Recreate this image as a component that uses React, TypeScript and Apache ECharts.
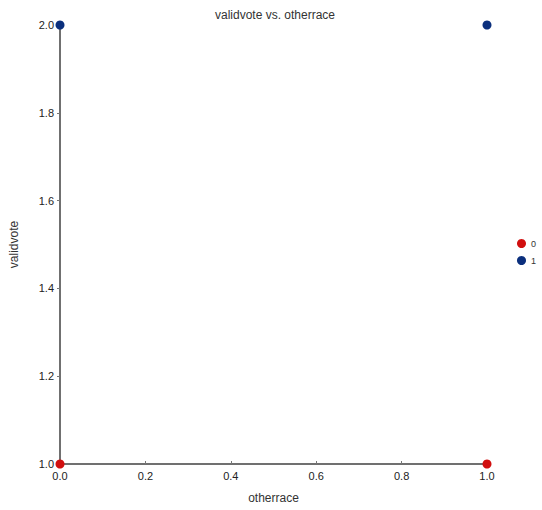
import React, { useEffect, useRef } from "react";
import * as echarts from "echarts";

const seriesNames = ["0", "1"];
const seriesColors = ["#d10f0f", "#0b2f7d"];
const otherrace0 = [0, 1];
const validvote0 = [1, 1];
const otherrace1 = [0, 1];
const validvote1 = [2, 2];

export default function App() {
  const ref = useRef<HTMLDivElement>(null);
  useEffect(() => {
    document.body.style.margin = "0";
    const chart = echarts.init(ref.current!, null, { renderer: "svg" });
    const mk = (xs: number[], ys: number[]) => xs.map((x, i) => [x, ys[i]]);
    chart.setOption({
      animation: false,
      backgroundColor: "#ffffff",
      title: {
        text: "validvote vs. otherrace",
        left: 270,
        textAlign: "center",
        top: 4,
        textStyle: { fontSize: 12, fontWeight: "normal", color: "#333", fontFamily: "Arial, Liberation Sans" },
      },
      legend: {
        orient: "vertical",
        left: 512,
        top: 234,
        itemWidth: 9,
        itemHeight: 9,
        itemGap: 8,
        icon: "circle",
        data: seriesNames,
        textStyle: { fontSize: 9, color: "#333", fontFamily: "Arial, Liberation Sans" },
      },
      grid: { left: 58, right: 55, top: 25, bottom: 46 },
      xAxis: {
        type: "value",
        min: 0,
        max: 1,
        interval: 0.2,
        name: "otherrace",
        nameLocation: "middle",
        nameGap: 28,
        nameTextStyle: { fontSize: 12, color: "#333", fontFamily: "Arial, Liberation Sans" },
        axisLine: { show: true, lineStyle: { color: "#707070", width: 2 } },
        axisTick: { show: true, inside: true, length: 3, lineStyle: { color: "#777" } },
        axisLabel: { fontSize: 11, color: "#222", margin: 6, formatter: (v: number) => v.toFixed(1), fontFamily: "Arial, Liberation Sans" },
        splitLine: { show: false },
      },
      yAxis: {
        type: "value",
        min: 1,
        max: 2,
        interval: 0.2,
        name: "validvote",
        nameLocation: "middle",
        nameGap: 40,
        nameTextStyle: { fontSize: 12, color: "#333", fontFamily: "Arial, Liberation Sans" },
        axisLine: { show: true, lineStyle: { color: "#707070", width: 2 } },
        axisTick: { show: true, length: 3, lineStyle: { color: "#777" } },
        axisLabel: { fontSize: 11, color: "#222", margin: 6, formatter: (v: number) => v.toFixed(1), fontFamily: "Arial, Liberation Sans" },
        splitLine: { show: false },
      },
      series: [
        {
          name: seriesNames[0],
          type: "scatter",
          symbolSize: 9,
          itemStyle: { color: seriesColors[0], opacity: 1 },
          data: mk(otherrace0, validvote0),
        },
        {
          name: seriesNames[1],
          type: "scatter",
          symbolSize: 9,
          itemStyle: { color: seriesColors[1], opacity: 1 },
          data: mk(otherrace1, validvote1),
        },
      ],
    });
    return () => chart.dispose();
  }, []);
  return <div ref={ref} style={{ position: "absolute", left: 0, top: 0, width: 542, height: 510 }} />;
}
